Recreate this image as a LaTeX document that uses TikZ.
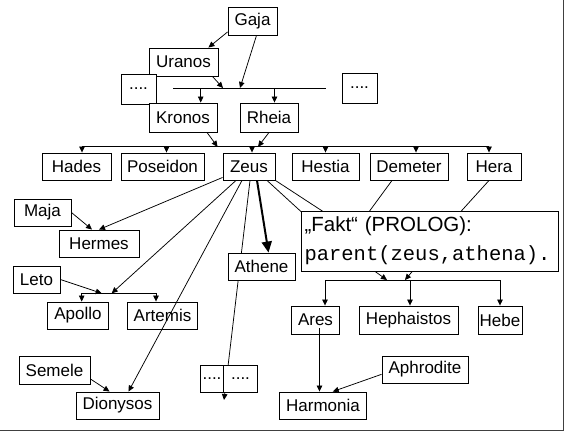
\documentclass[tikz,border=0pt]{standalone}
\usepackage{fontspec}
\setmainfont{Liberation Sans}
\setmonofont{Liberation Mono}
\usetikzlibrary{arrows.meta}

\begin{document}
\begin{tikzpicture}[x=1pt, y=-1pt,
    box/.style={draw, fill=white, line width=0.9pt, minimum height=27pt, inner sep=0pt,
                font=\fontsize{17}{19}\selectfont},
    arr/.style={-{Triangle[length=6pt,width=5.5pt]}, line width=0.75pt},
    fatarr/.style={-{Triangle[length=11pt,width=10pt]}, line width=2pt},
    link/.style={line width=0.75pt}]
      \useasboundingbox (0,0) rectangle (564,431);

      % Frame
      \draw[line width=1pt, black!75] (563.5,0) -- (563.5,430.5) -- (0,430.5);

      % Old generations
      \node[box, minimum width=49pt, minimum height=28pt] (gaja) at (252.5,21) {Gaja};
      \node[box, minimum width=69pt, minimum height=28pt] (uranos) at (183.5,62) {Uranos};
      \node[box, minimum width=35pt, minimum height=30pt] (dotsl) at (138.5,89) {....};
      \node[box, minimum width=35pt, minimum height=30pt] (dotsr) at (359.5,88) {....};
      \node[box, minimum width=68pt, minimum height=29pt] (kronos) at (183,117.5) {Kronos};
      \node[box, minimum width=58pt, minimum height=29pt] (rheia) at (269,117.5) {Rheia};

      % Children of Kronos and Rheia
      \node[box, minimum width=69pt] (hades) at (76.5,166.5) {Hades};
      \node[box, minimum width=83pt] (poseidon) at (162.5,166.5) {Poseidon};
      \node[box, minimum width=52pt] (zeus) at (249,166.5) {Zeus};
      \node[box, minimum width=67pt] (hestia) at (325.5,166.5) {Hestia};
      \node[box, minimum width=78pt] (demeter) at (409,166.5) {Demeter};
      \node[box, minimum width=54pt] (hera) at (494,166.5) {Hera};

      % Mothers and children of Zeus
      \node[box, minimum width=57pt] (maja) at (42.5,212.5) {Maja};
      \node[box, minimum width=80pt] (hermes) at (99,243.5) {Hermes};
      \node[box, minimum width=47pt] (leto) at (36.5,279.5) {Leto};
      \node[box, minimum width=61pt] (apollo) at (78,315.5) {Apollo};
      \node[box, minimum width=70pt] (artemis) at (162.5,315.5) {Artemis};
      \node[box, minimum width=71pt, minimum height=28pt] (semele) at (54.5,370) {Semele};
      \node[box, minimum width=83pt] (dionysos) at (117.5,405.5) {Dionysos};
      \node[box, minimum width=48pt, minimum height=28pt] (ares) at (315.5,320) {Ares};
      \node[box, minimum width=99pt, minimum height=28pt] (hephaistos) at (408.5,320) {Hephaistos};
      \node[box, minimum width=44pt, minimum height=28pt] (hebe) at (500,320) {Hebe};
      \node[box, minimum width=86pt] (aphrodite) at (425,369.5) {Aphrodite};
      \node[box, minimum width=87pt] (harmonia) at (323,405.5) {Harmonia};

      % Connectors that run behind boxes
      \coordinate (dotsend) at (224,400);
      \coordinate (zf1) at (343,250);
      \coordinate (zf2) at (382,250);
      \coordinate (df) at (341,250);
      \coordinate (hf) at (426,250);
      \coordinate (fa) at (366,265);
      \coordinate (fb) at (416,267);
      \coordinate (fa2) at (387,280);
      \coordinate (fb2) at (405,280);
      \draw[arr] ([xshift=1pt]zeus.south) -- (dotsend);
      \draw[link] ([xshift=18pt]zeus.south) -- (zf1);
      \draw[link] (zeus.south east) -- (zf2);
      \draw[link] ([xshift=-17pt]demeter.south) -- (df);
      \draw[link] ([xshift=-5pt]hera.south) -- (hf);
      \draw[arr] (fa) -- (fa2);
      \draw[arr] (fb) -- (fb2);

      % Boxes on top of them
      \node[box, minimum width=67pt] (athene) at (261.5,266.5) {Athene};
      \node[box, minimum width=22.6pt] (dotsa) at (212,378.5) {....};
      \node[box, minimum width=34.4pt] (dotsb) at (240.5,378.5) {....};
      \node[box, font=\fontsize{20.5}{29}\selectfont, text width=250pt, align=left,
            inner xsep=3.5pt, minimum height=60pt] (fakt) at (429.5,241)
            {„Fakt“ (PROLOG):\\{\ttfamily parent(zeus,athena).}};

      % Gaja and Uranos
      \coordinate (bar1l) at (173,88);
      \coordinate (bar1r) at (326,88);
      \coordinate (g1) at (240,88);
      \coordinate (u1) at (223,88);
      \coordinate (k1) at (200.7,88);
      \coordinate (r1) at (274.5,88);
      \draw[link] (bar1l) -- (bar1r);
      \draw[arr] ([yshift=3.5pt]gaja.south west) -- ([xshift=-10pt]uranos.north east);
      \draw[arr] ([xshift=4pt]gaja.south) -- (g1);
      \draw[arr] ([xshift=-6pt]uranos.south east) -- (u1);
      \draw[arr] (k1) -- (k1 |- kronos.north);
      \draw[arr] (r1) -- (r1 |- rheia.north);

      % Kronos and Rheia
      \coordinate (bar2l) at (82,146.8);
      \coordinate (bar2r) at (489,146.8);
      \draw[link] (bar2l) -- (bar2r);
      \draw[arr] ([xshift=24pt]kronos.south) -- (217.6,146.8);
      \draw[arr] (rheia.south) -- (258,146.8);
      \foreach \x/\n in {82/hades, 166.5/poseidon, 252/zeus, 325.5/hestia, 416/demeter, 489/hera} {
        \coordinate (d) at (\x,146.8);
        \draw[arr] (d) -- (d |- \n.north);
      }

      % Zeus and his partners
      \draw[arr] ([yshift=3pt]zeus.south west) -- (hermes.north);
      \draw[arr] (maja.east) -- ([xshift=-7pt]hermes.north);
      \coordinate (bar3l) at (81.7,293.3);
      \coordinate (bar3r) at (156,293.3);
      \draw[link] (bar3l) -- (bar3r);
      \draw[arr] ([xshift=-13pt]zeus.south) -- (111.7,293.3);
      \draw[arr] (leto.east) -- (101.7,293.3);
      \draw[arr] (bar3l) -- (bar3l |- apollo.north);
      \draw[arr] (bar3r) -- (bar3r |- artemis.north);
      \draw[arr] ([xshift=-7pt]zeus.south) -- ([xshift=11pt]dionysos.north);
      \draw[arr] ([yshift=5.5pt]semele.south east) -- ([xshift=-8pt]dionysos.north);
      \draw[fatarr] ([xshift=8pt]zeus.south) -- ([xshift=7pt]athene.north);

      % Zeus and Hera
      \coordinate (bar4l) at (325,280);
      \coordinate (bar4m) at (410,280);
      \coordinate (bar4r) at (500,280);
      \draw[link] (bar4l) -- (bar4r);
      \draw[arr] (bar4l) -- (bar4l |- ares.north);
      \draw[arr] (bar4m) -- (bar4m |- hephaistos.north);
      \draw[arr] (bar4r) -- (bar4r |- hebe.north);

      % Ares and Aphrodite
      \coordinate (aresbot) at ([xshift=4pt,yshift=6pt]ares.south);
      \draw[arr] (aresbot) -- (aresbot |- harmonia.north);
      \draw[arr] ([yshift=-4.8pt]aphrodite.west) -- ([xshift=9.7pt]harmonia.north);
    \end{tikzpicture}
\end{document}
